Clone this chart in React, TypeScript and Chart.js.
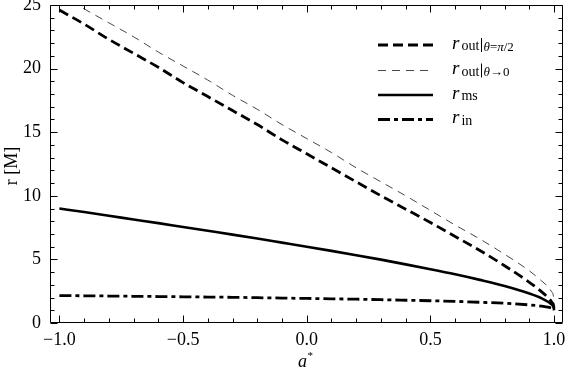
import React, { useEffect, useRef } from "react";
import { Chart, registerables } from "chart.js";

Chart.register(...registerables);

const spin = [-1, -0.9, -0.8, -0.7, -0.6, -0.5, -0.4, -0.3, -0.2, -0.1, 0, 0.1, 0.2, 0.3, 0.4, 0.5, 0.6, 0.7, 0.8, 0.9, 0.95, 0.98, 0.99, 0.998, 1];
const rOutEquator = [24.6, 23.5, 22.3, 21.2, 20.1, 18.9, 17.8, 16.7, 15.6, 14.4, 13.3, 12.2, 11.1, 10.0, 8.95, 7.9, 6.8, 5.7, 4.5, 3.2, 2.45, 1.9, 1.65, 1.35, 1.1];
const rOutPole = [25.9, 24.7, 23.6, 22.5, 21.3, 20.2, 19.1, 17.9, 16.8, 15.6, 14.5, 13.4, 12.2, 11.1, 10.0, 8.85, 7.7, 6.6, 5.4, 4.1, 3.3, 2.75, 2.45, 2.0, 1.2];
const rMs = [9.0, 8.72, 8.43, 8.14, 7.85, 7.55, 7.25, 6.95, 6.64, 6.32, 6.0, 5.67, 5.33, 4.98, 4.61, 4.23, 3.83, 3.39, 2.91, 2.32, 1.94, 1.61, 1.46, 1.24, 1.0];
const rIn = [2.15, 2.14, 2.12, 2.1, 2.08, 2.06, 2.04, 2.02, 1.99, 1.96, 1.93, 1.9, 1.87, 1.83, 1.79, 1.75, 1.7, 1.63, 1.55, 1.42, 1.32, 1.22, 1.16, 1.08, 1.0];

const xTickLabels = [-1, -0.5, 0, 0.5, 1];
const yTickLabels = [0, 5, 10, 15, 20, 25];

const SERIF = '"Liberation Serif", "Times New Roman", serif';

const pairs = (ys: number[]) => spin.map((a, i) => ({ x: a, y: ys[i] }));

function txt(ctx: CanvasRenderingContext2D, s: string, x: number, y: number, font: string) {
  ctx.font = font;
  ctx.fillText(s, x, y);
  return x + ctx.measureText(s).width;
}

const legendRows = [
  { dy: 45, dash: [10, 5], w: 2.8, color: "#000", sub: "out", cond: [["θ", "italic "], ["=", ""], ["π", "italic "], ["/2", ""]] },
  { dy: 70.5, dash: [8, 6], w: 0.9, color: "#333", sub: "out", cond: [["θ", "italic "], ["→0", ""]] },
  { dy: 95, dash: [], w: 2.6, color: "#000", sub: "ms", cond: null },
  { dy: 119.5, dash: [12, 4, 4, 4], w: 2.8, color: "#000", sub: "in", cond: null },
];

const decorPlugin = {
  id: "decor",
  afterDatasetsDraw(chart: any) {
    const { ctx, chartArea: ca, scales } = chart;
    const xs = scales.x;
    const ys = scales.y;
    ctx.save();
    ctx.strokeStyle = "#000";
    ctx.lineWidth = 1;
    ctx.setLineDash([]);
    const L = Math.round(ca.left) + 0.5;
    const R = Math.round(ca.right) - 0.5;
    const T = Math.round(ca.top) + 0.5;
    const B = Math.round(ca.bottom) - 0.5;
    ctx.beginPath();
    ctx.rect(L, T, R - L, B - T);
    ctx.stroke();
    ctx.beginPath();
    for (let i = -10; i <= 10; i++) {
      const px = Math.round(xs.getPixelForValue(i / 10)) + 0.5;
      const len = i % 5 === 0 ? 7 : 4;
      ctx.moveTo(px, B);
      ctx.lineTo(px, B - len);
      ctx.moveTo(px, T);
      ctx.lineTo(px, T + len);
    }
    for (let v = 0; v <= 25; v++) {
      const py = Math.round(ys.getPixelForValue(v)) + 0.5;
      const len = v % 5 === 0 ? 7 : 4;
      ctx.moveTo(L, py);
      ctx.lineTo(L + len, py);
      ctx.moveTo(R, py);
      ctx.lineTo(R - len, py);
    }
    ctx.stroke();

    // legend
    ctx.fillStyle = "#000";
    ctx.textBaseline = "alphabetic";
    ctx.textAlign = "left";
    for (const row of legendRows) {
      ctx.beginPath();
      ctx.strokeStyle = row.color;
      ctx.lineWidth = row.w;
      ctx.setLineDash(row.dash);
      ctx.moveTo(378, row.dy);
      ctx.lineTo(433, row.dy);
      ctx.stroke();
      ctx.setLineDash([]);
      const base = row.dy + 3.5;
      let cx = txt(ctx, "r", 452, base, `italic 19px ${SERIF}`);
      cx = txt(ctx, row.sub, cx + 2, base + 1.5, `14px ${SERIF}`);
      if (row.cond) {
        const bx = Math.round(cx + 2) + 0.5;
        ctx.beginPath();
        ctx.strokeStyle = "#000";
        ctx.lineWidth = 1;
        ctx.moveTo(bx, row.dy - 7);
        ctx.lineTo(bx, row.dy + 7);
        ctx.stroke();
        let qx = bx + 2;
        for (const [s, st] of row.cond) {
          qx = txt(ctx, s, qx, base + 2, `${st}13px ${SERIF}`);
        }
      }
    }

    // axis titles
    ctx.textAlign = "left";
    const ax = txt(ctx, "a", 298, 367, `italic 18px ${SERIF}`);
    txt(ctx, "*", ax + 0.5, 359, `11px ${SERIF}`);

    ctx.save();
    ctx.translate(17, 166);
    ctx.rotate(-Math.PI / 2);
    ctx.textAlign = "center";
    ctx.font = `18px ${SERIF}`;
    ctx.fillText("r [M]", 0, 0);
    ctx.restore();

    ctx.restore();
  },
};

export default function App() {
  const ref = useRef<HTMLCanvasElement | null>(null);
  useEffect(() => {
    if (!ref.current) return;
    const fmt = (v: number) => v.toFixed(1).replace("-", "\u2212");
    const common = { pointRadius: 0, fill: false, tension: 0, clip: 0, cubicInterpolationMode: "monotone" };
    const chart = new Chart(ref.current, {
      type: "line",
      data: {
        datasets: [
          { ...common, label: "rOutEq", data: pairs(rOutEquator), borderColor: "#000", borderWidth: 2.8, borderDash: [10, 5] },
          { ...common, label: "rOutPole", data: pairs(rOutPole), borderColor: "#333", borderWidth: 0.9, borderDash: [8, 6] },
          { ...common, label: "rMs", data: pairs(rMs), borderColor: "#000", borderWidth: 2.6 },
          { ...common, label: "rIn", data: pairs(rIn), borderColor: "#000", borderWidth: 2.8, borderDash: [12, 4, 4, 4] },
        ] as any,
      },
      options: {
        animation: false,
        responsive: false,
        maintainAspectRatio: false,
        layout: { padding: { top: 5, right: 2, left: 0, bottom: 0 } },
        plugins: { legend: { display: false }, tooltip: { enabled: false } },
        scales: {
          x: {
            type: "linear",
            min: -1.038,
            max: 1.036,
            grid: { display: false },
            border: { display: false },
            ticks: {
              font: { family: SERIF, size: 18 },
              color: "#000",
              padding: -2,
              maxRotation: 0,
              autoSkip: false,
              callback: (v: any) => fmt(Number(v)),
            },
            afterBuildTicks: (s: any) => {
              s.ticks = xTickLabels.map((v) => ({ value: v }));
            },
            afterFit: (s: any) => {
              s.height = 52;
              s.paddingLeft = 0;
              s.paddingRight = 0;
            },
          },
          y: {
            type: "linear",
            min: 0,
            max: 25,
            grid: { display: false },
            border: { display: false },
            ticks: {
              font: { family: SERIF, size: 18 },
              color: "#000",
              padding: 1,
              autoSkip: false,
              callback: (v: any) => String(v),
            },
            afterBuildTicks: (s: any) => {
              s.ticks = yTickLabels.map((v) => ({ value: v }));
            },
            afterFit: (s: any) => {
              s.width = 50;
              s.paddingTop = 0;
              s.paddingBottom = 0;
            },
          },
        },
      } as any,
      plugins: [decorPlugin],
    });
    return () => chart.destroy();
  }, []);
  return (
    <div style={{ position: "absolute", left: 0, top: 0, width: 565, height: 375, background: "#fff" }}>
      <canvas ref={ref} width={565} height={375} style={{ display: "block", width: 565, height: 375 }} />
    </div>
  );
}
